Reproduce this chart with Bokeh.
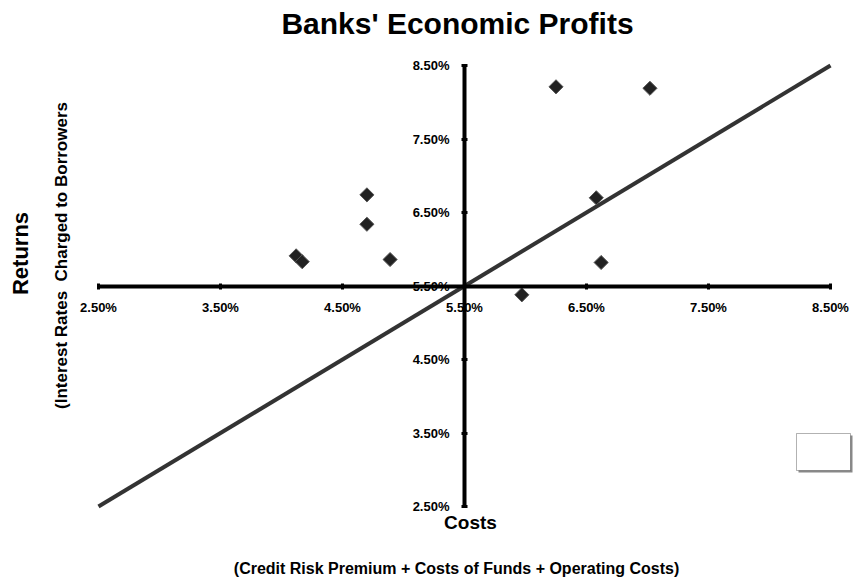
import math
from bokeh.plotting import figure
from bokeh.models import Range1d, Label, BoxAnnotation, FixedTicker
from bokeh.embed import file_html
from bokeh.resources import INLINE

# ---- data ----
costs = [6.25, 7.02, 4.70, 4.70, 4.12, 4.17, 4.89, 6.58, 6.62, 5.97]
returns = [8.21, 8.19, 6.74, 6.34, 5.91, 5.83, 5.86, 6.70, 5.82, 5.38]
trend_x = [2.5, 8.5]
trend_y = [2.5, 8.5]
tick_values = [2.5, 3.5, 4.5, 5.5, 6.5, 7.5, 8.5]
tick_labels = ["2.50%", "3.50%", "4.50%", "5.50%", "6.50%", "7.50%", "8.50%"]
title_text = "Banks' Economic Profits"
y_title = "Returns"
y_sub = "(Interest Rates\u00a0 Charged to Borrowers"
x_title = "Costs"
x_sub = "(Credit Risk Premium + Costs of Funds + Operating Costs)"

FONT = "Liberation Sans"
W, H = 854, 579
# plot area of the reference (canvas px): x 2.5..8.5 -> 98..830, y 8.5..2.5 -> 65..506
XL, XR, YT, YB = 98.0, 830.0, 65.0, 506.0
sx_u = (XR - XL) / 6.0
sy_u = (YB - YT) / 6.0
x0 = 2.5 - XL / sx_u
x1 = 2.5 + (W - XL) / sx_u
y1 = 8.5 + YT / sy_u
y0 = 2.5 - (H - YB) / sy_u

p = figure(width=W, height=H, output_backend="svg", toolbar_location=None,
           x_range=Range1d(x0, x1), y_range=Range1d(y0, y1),
           min_border=0, min_border_left=0, min_border_right=0,
           min_border_top=0, min_border_bottom=0)
p.outline_line_color = None
p.xgrid.visible = False
p.ygrid.visible = False
p.background_fill_color = "white"
p.border_fill_color = "white"

for ax in (p.xaxis[0], p.yaxis[0]):
    ax.fixed_location = 5.5
    ax.bounds = (2.5, 8.5)
    ax.ticker = FixedTicker(ticks=tick_values)
    ax.major_label_overrides = {v: l for v, l in zip(tick_values, tick_labels)}
    ax.minor_tick_line_color = None
    ax.axis_line_width = 4
    ax.axis_line_color = "black"
    ax.major_tick_line_width = 3
    ax.major_tick_line_color = "black"
    ax.major_tick_in = 3
    ax.major_tick_out = 3
    ax.major_label_text_font = FONT
    ax.major_label_text_font_style = "bold"
    ax.major_label_text_font_size = "13px"
    ax.major_label_text_color = "black"
p.xaxis[0].major_label_standoff = 11
p.yaxis[0].major_label_standoff = 12

p.line(trend_x, trend_y, line_color="#333333", line_width=4)
p.scatter(costs, returns, marker="square", angle=math.pi / 4, size=10,
          fill_color="#222222", line_color="#555555", line_width=1)

def scr(cx, cy):
    return cx, H - cy

def add_label(text, cx, cy, size, angle=0.0):
    sx, sy = scr(cx, cy)
    p.add_layout(Label(x=sx, y=sy, x_units="screen", y_units="screen", text=text,
                       text_font=FONT, text_font_style="bold", text_font_size=size,
                       text_align="center", text_baseline="middle", angle=angle,
                       text_color="black"))

add_label(title_text, 457, 23, "30px")
add_label(y_title, 20, 253, "22px", math.pi / 2)
add_label(y_sub, 61, 255, "17px", math.pi / 2)
add_label(x_title, 470, 522, "19px")
add_label(x_sub, 456, 568, "16px")

l, b = scr(796, 470)
r, t = scr(850, 433)
p.add_layout(BoxAnnotation(left=l + 2, right=r + 2, bottom=b - 2, top=t - 2,
                           left_units="screen", right_units="screen",
                           bottom_units="screen", top_units="screen",
                           fill_color="#888888", fill_alpha=1.0, line_color=None))
p.add_layout(BoxAnnotation(left=l, right=r, bottom=b, top=t,
                           left_units="screen", right_units="screen",
                           bottom_units="screen", top_units="screen",
                           fill_color="white", fill_alpha=1.0,
                           line_color="black", line_width=1))

open("out.html", "w").write(file_html(p, INLINE))
